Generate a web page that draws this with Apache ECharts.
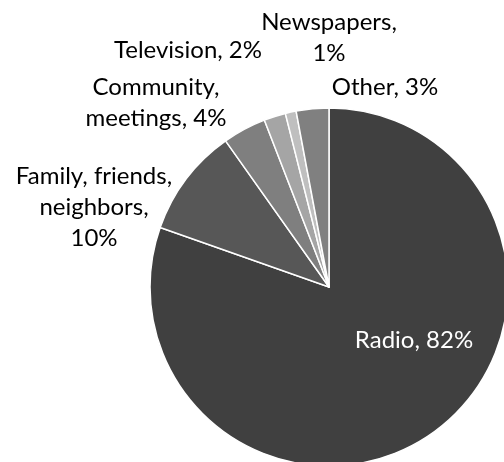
<!DOCTYPE html>
<html>
<head>
<meta charset="utf-8">
<script src="https://cdn.jsdelivr.net/npm/echarts@6/dist/echarts.min.js"></script>
<style>
html,body{margin:0;padding:0;background:#fff;}
#chart{width:504px;height:462px;}
</style>
</head>
<body>
<div id="chart"></div>
<script>
// Data
const categories = ['Radio', 'Family, friends, neighbors', 'Community meetings', 'Television', 'Newspapers', 'Other'];
const values = [82, 10, 4, 2, 1, 3];
const labelTexts = ['Radio, 82%', 'Family, friends,\nneighbors,\n10%', 'Community,\nmeetings, 4%', 'Television, 2%', 'Newspapers,\n1%', 'Other, 3%'];

// Styles / layout
const colors = ['#404040', '#575757', '#7f7f7f', '#a5a5a5', '#bfbfbf', '#808080'];
const labelPos = [[414, 340], [94, 207], [156, 103], [188, 50], [329, 38], [385, 87]];

const chart = echarts.init(document.getElementById('chart'), null, {renderer: 'canvas'});
chart.setOption({
  animation: false,
  series: [{
    type: 'pie',
    center: [329, 287],
    radius: 179,
    startAngle: 90,
    clockwise: true,
    data: categories.map((c, i) => ({
      name: c,
      value: values[i],
      itemStyle: {color: colors[i]},
      label: {color: i === 0 ? '#ffffff' : '#000000'}
    })),
    itemStyle: {borderColor: '#ffffff', borderWidth: 1.5},
    label: {
      show: true,
      position: 'outside',
      formatter: p => labelTexts[p.dataIndex],
      fontFamily: 'Lato',
      fontSize: 24,
      lineHeight: 31,
      align: 'center',
      overflow: 'none'
    },
    labelLine: {show: false},
    labelLayout: p => ({
      x: labelPos[p.dataIndex][0],
      y: labelPos[p.dataIndex][1],
      align: 'center',
      verticalAlign: 'middle',
      hideOverlap: false,
      moveOverlap: false
    }),
    emphasis: {disabled: true}
  }]
});
</script>
</body>
</html>
